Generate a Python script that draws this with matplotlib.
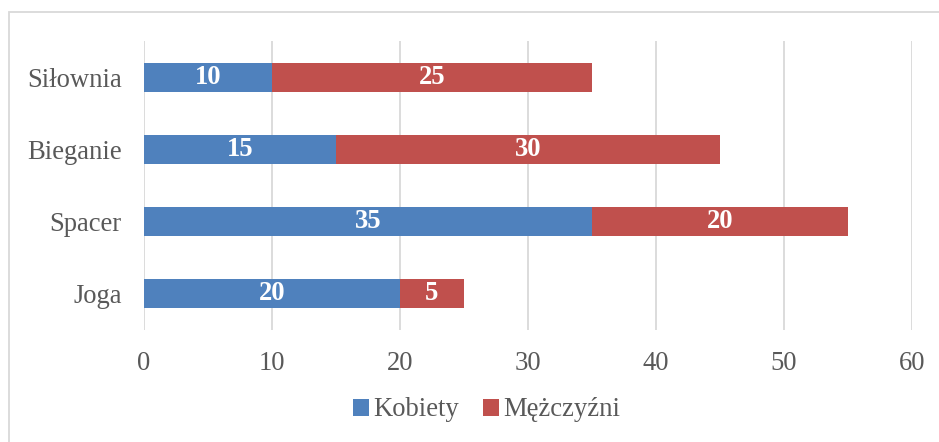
import numpy as np
import matplotlib.pyplot as plt
from matplotlib.patches import Rectangle

# data
categories = ['Joga', 'Spacer', 'Bieganie', 'Siłownia']
kobiety = [20, 35, 15, 10]
mezczyzni = [5, 20, 30, 25]
series_names = ['Kobiety', 'Mężczyźni']
x_ticks = [0, 10, 20, 30, 40, 50, 60]

blue = '#4F81BD'
red = '#C0504D'
text_gray = '#595959'
grid_gray = '#D9D9D9'

plt.rcParams['font.family'] = ['Liberation Serif', 'DejaVu Serif']
fs = 19.2

fig = plt.figure(figsize=(9.39, 4.42), dpi=100)
ax = fig.add_axes([144 / 939, 1 - 330 / 442, (912 - 144) / 939, (330 - 41) / 442])

# chart border (only left and top edges visible in the crop)
fig.patches.append(Rectangle((9 / 939, -0.1), 1.2, 1 - 12 / 442 + 0.1,
                             transform=fig.transFigure, fill=False,
                             edgecolor=grid_gray, linewidth=1.3))

y = np.arange(len(categories))
b1 = ax.barh(y, kobiety, height=0.4, color=blue, label=series_names[0], zorder=3)
b2 = ax.barh(y, mezczyzni, left=kobiety, height=0.4, color=red, label=series_names[1], zorder=3)

for bars in (b1, b2):
    ax.bar_label(bars, label_type='center', color='white', fontweight='bold', fontsize=fs)

ax.set_xlim(0, 60)
ax.set_ylim(-0.5, len(categories) - 0.5)
ax.set_xticks(x_ticks)
ax.set_yticks(y)
ax.set_yticklabels(categories)
ax.tick_params(axis='both', length=0, labelsize=fs, labelcolor=text_gray)
ax.tick_params(axis='x', pad=15)
ax.tick_params(axis='y', pad=16)
ax.grid(axis='x', color=grid_gray, linewidth=1.3, zorder=0)
for s in ax.spines.values():
    s.set_visible(False)

fig.legend(handles=[b1, b2], loc='center', bbox_to_anchor=(0.518, 1 - 410 / 442),
           ncol=2, frameon=False, fontsize=fs, labelcolor=text_gray,
           handlelength=0.6, handleheight=0.6, handletextpad=0.15, columnspacing=0.9)

fig.savefig('out.png', dpi=100)
